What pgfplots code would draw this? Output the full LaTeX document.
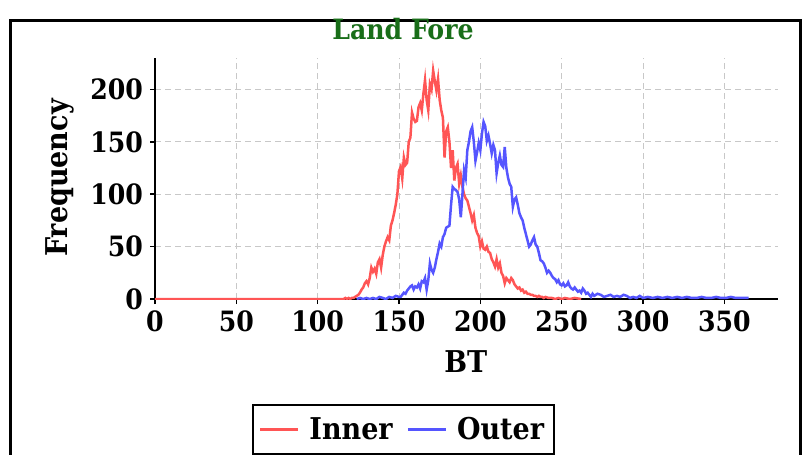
\documentclass[border=0pt]{standalone}
\usepackage{pgfplots}
\pgfplotsset{compat=1.18}
\usepackage{fontspec}
\setmainfont{DejaVu Serif Condensed}
\definecolor{innerred}{RGB}{255,85,85}
\definecolor{outerblue}{RGB}{85,85,255}
\definecolor{titlegreen}{RGB}{25,110,25}
\definecolor{gridgray}{RGB}{200,200,200}
\begin{document}
\begin{tikzpicture}
\useasboundingbox (0,0) rectangle (401.5pt,-227.5pt);
\draw[line width=1.5pt] (5pt,-10pt) rectangle (400pt,-240pt);
\begin{axis}[
  at={(77.5pt,-149.5pt)}, anchor=origin,
  scale only axis, width=311.5pt, height=120.5pt,
  xmin=0, xmax=383, ymin=0, ymax=230,
  axis x line=bottom, axis y line=left,
  axis line style={black, line width=1pt, -},
  xtick={0,50,...,350}, ytick={0,50,...,200},
  tick align=outside, major tick length=2.5pt,
  tick style={black, line width=0.8pt},
  grid=major,
  major grid style={gridgray, dash pattern=on 3pt off 2pt, line width=0.5pt},
  /pgf/number format/assume math mode=true,
  ticklabel style={font=\bfseries\fontsize{14}{14}\selectfont},
  every axis title shift=0pt,
  title={\textcolor{titlegreen}{Land Fore}},
  title style={at={(axis description cs:0.398,1.12)}, anchor=center, font=\bfseries\fontsize{14}{14}\selectfont},
  xlabel={BT},
  xlabel style={at={(axis description cs:0.499,-0.261)}, anchor=center, font=\bfseries\fontsize{15}{15}\selectfont},
  ylabel={Frequency},
  ylabel style={at={(axis description cs:-0.152,0.502)}, anchor=center, rotate=0, font=\bfseries\fontsize{15}{15}\selectfont},
  legend columns=2,
  legend style={at={(axis description cs:0.1557,-0.4357)}, anchor=north west,
    draw=black, line width=1pt, font=\bfseries\fontsize{15}{15}\selectfont,
    inner xsep=3pt, inner ysep=4pt,
    /tikz/every even column/.append style={column sep=5pt}},
  legend image code/.code={\draw[#1, line width=1.2pt] (0pt,0pt) -- (19pt,0pt);},
]
\addplot[innerred, line width=1.25pt] coordinates {
(0,0) (116,0) (117,1) (118,0) (119,1) (120,0) (121,1) (122,1) (123,2) (124,3) (125,4)
(126,6) (127,9) (128,11) (129,15) (130,17) (131,14) (132,20) (133,30) (134,26) (135,29)
(136,24) (137,35) (138,38) (139,30) (140,42) (141,50) (142,55) (143,59) (144,56) (145,70)
(146,75) (147,82) (148,90) (149,100) (150,122) (151,126) (152,115) (153,135) (154,128) (155,130)
(156,150) (157,154) (158,178) (159,172) (160,169) (161,170) (162,183) (163,187) (164,180) (165,196)
(166,209) (167,190) (168,180) (169,205) (170,200) (171,218) (172,208) (173,199) (174,210) (175,190)
(176,180) (177,173) (178,135) (179,160) (180,164) (181,150) (182,125) (183,142) (184,113) (185,125)
(186,129) (187,110) (188,118) (189,107) (190,100) (191,96) (192,94) (193,88) (194,82) (195,75)
(196,80) (197,68) (198,63) (199,60) (200,50) (201,55) (202,48) (203,47) (204,50) (205,45)
(206,44) (207,38) (208,35) (209,31) (210,38) (211,30) (212,34) (213,25) (214,22) (215,15)
(216,20) (217,18) (218,16) (219,20) (220,18) (221,14) (222,12) (223,10) (224,11) (225,8)
(226,9) (227,6) (228,7) (229,5) (230,5) (231,4) (232,4) (233,3) (234,3) (235,2)
(236,3) (237,2) (238,2) (239,1) (240,2) (242,1) (244,1) (246,0) (248,1) (250,0)
(252,1) (255,0) (258,1) (262,0)
};
\addlegendentry{\hspace{3pt}Inner}
\addplot[outerblue, line width=1.25pt] coordinates {
(124,0) (126,1) (128,0) (130,1) (132,0) (134,1) (136,0) (138,2) (140,1) (142,0)
(144,2) (146,1) (148,3) (150,2) (151,2) (152,4) (153,6) (154,5) (155,8) (156,10)
(157,12) (158,13) (159,9) (160,12) (161,11) (162,14) (163,10) (164,17) (165,16) (166,20)
(167,9) (168,18) (169,34) (170,28) (171,25) (172,30) (173,38) (174,45) (175,53) (176,50)
(177,59) (178,62) (179,68) (180,69) (181,70) (182,90) (183,107) (184,105) (185,104) (186,102)
(187,95) (188,78) (189,100) (190,123) (191,116) (192,142) (193,150) (194,160) (195,164) (196,150)
(197,132) (198,140) (199,149) (200,142) (201,158) (202,169) (203,165) (204,151) (205,156) (206,148)
(207,139) (208,147) (209,142) (210,120) (211,130) (212,137) (213,128) (214,126) (215,145) (216,125)
(217,116) (218,110) (219,107) (220,88) (221,95) (222,97) (223,90) (224,82) (225,78) (226,75)
(227,68) (228,62) (229,56) (230,50) (231,52) (232,56) (233,59) (234,52) (235,50) (236,44)
(237,37) (238,36) (239,34) (240,30) (241,25) (242,27) (243,25) (244,22) (245,20) (246,19)
(247,16) (248,18) (249,14) (250,13) (251,15) (252,12) (253,13) (254,16) (255,12) (256,10)
(257,9) (258,11) (259,9) (260,7) (261,8) (262,6) (263,10) (264,8) (265,5) (266,6)
(267,4) (268,2) (269,5) (270,3) (272,5) (274,4) (276,2) (278,3) (280,4) (282,2)
(284,3) (286,2) (288,4) (290,3) (292,1) (294,2) (296,1) (298,3) (300,1) (303,2)
(306,1) (309,2) (312,1) (315,2) (318,1) (321,2) (324,1) (327,2) (330,1) (333,1)
(336,2) (339,1) (342,1) (345,2) (348,1) (351,1) (354,2) (357,1) (360,1) (363,1) (365,1)
};
\addlegendentry{\hspace{3pt}Outer}
\end{axis}
\end{tikzpicture}
\end{document}
